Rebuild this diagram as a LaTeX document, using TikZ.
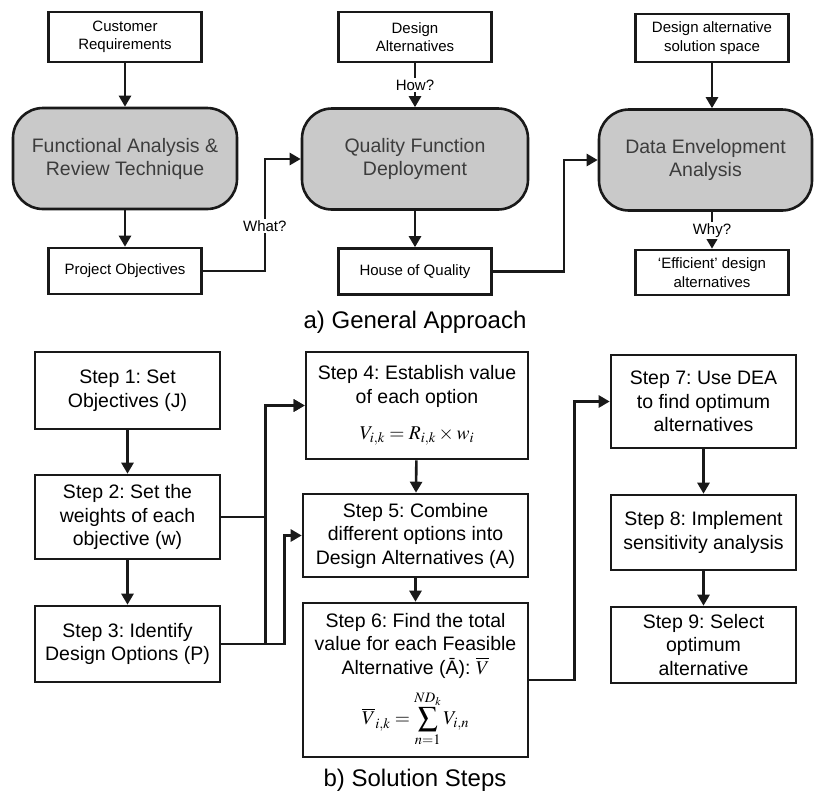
\documentclass[tikz,border=0pt]{standalone}
\usepackage{mathptmx}
\usepackage[no-math]{fontspec}
\setmainfont{Liberation Sans}
\usepackage{amsmath}
\usetikzlibrary{arrows.meta}
\frenchspacing

\definecolor{boxgray}{RGB}{201,201,201}
\definecolor{ink}{RGB}{25,25,25}
\definecolor{softink}{RGB}{60,60,60}

\begin{document}
\begin{tikzpicture}[x=1pt,y=1pt,
  line width=2.6pt,
  smallbox/.style={draw=ink,fill=white,align=center,inner sep=0pt,
    minimum width=153pt,font=\fontsize{15}{18.5}\selectfont},
  bigbox/.style={draw=ink,fill=boxgray,rounded corners=30pt,align=center,
    inner sep=0pt,minimum height=101pt,text=softink,
    font=\fontsize{19.5}{23}\selectfont},
  stepbox/.style={draw=ink,fill=white,align=center,inner sep=0pt,
    font=\fontsize{19.5}{23.5}\selectfont},
  arr/.style={draw=ink,sharp corners,line join=miter,-{Triangle[width=12pt,length=11pt]}},
  tag/.style={fill=white,inner sep=1.5pt,font=\fontsize{15}{18}\selectfont}]
  \useasboundingbox (0,0) rectangle (814,-793);

  % a) general approach
  \node[smallbox,minimum height=50pt] (cr) at (125,-37) {Customer\\Requirements};
  \node[bigbox,minimum width=224pt] (far) at (125,-158.5) {Functional Analysis \&\\Review Technique};
  \node[smallbox,minimum height=46pt] (po) at (125,-271) {Project Objectives};

  \node[smallbox,minimum height=50pt] (da) at (415,-37) {Design\\Alternatives};
  \node[bigbox,minimum width=226pt] (qfd) at (415,-159) {Quality Function\\Deployment};
  \node[smallbox,minimum height=46pt] (hoq) at (415,-271.5) {House of Quality};

  \node[smallbox,minimum height=48pt] (dass) at (712,-38) {Design alternative\\solution space};
  \node[bigbox,minimum width=213pt] (dea) at (705.5,-160) {Data Envelopment\\Analysis};
  \node[smallbox,minimum height=45pt] (eff) at (712,-272.5) {`Efficient' design\\alternatives};

  \draw[arr] (cr) -- (far);
  \draw[arr] (far) -- (po);
  \draw[arr] (da) -- node[tag] {How?} (qfd);
  \draw[arr] (qfd) -- (hoq);
  \draw[arr] (dass.south) -- (dass.south |- dea.north);
  \draw[arr] (eff.north |- dea.south) -- node[tag] {Why?} (eff.north);
  \draw[arr] (po.east) -- ++(62,0) |- node[tag,pos=0.2] {What?} (qfd.west);
  \draw[arr] (hoq.east) -- ++(71,0) |- (dea.west);

  \node[font=\fontsize{24}{28}\selectfont] (ta) at (415,-322) {a) General Approach};

  % b) solution steps
  \node[stepbox,minimum width=185pt,minimum height=77pt] (s1) at (127.5,-390.5) {Step 1: Set\\Objectives (J)};
  \node[stepbox,minimum width=185pt,minimum height=84pt] (s2) at (127.5,-517) {Step 2: Set the\\weights of each\\objective (w)};
  \node[stepbox,minimum width=185pt,minimum height=76pt] (s3) at (127.5,-644) {Step 3: Identify\\Design Options (P)};

  \node[stepbox,minimum width=222pt,minimum height=107pt] (s4) at (417,-405.5)
    {Step 4: Establish value\\of each option\\[13pt] $V_{i,k}=R_{i,k}\times w_i$};
  \node[stepbox,minimum width=225pt,minimum height=83pt] (s5) at (415.5,-535.5)
    {Step 5: Combine\\different options into\\Design Alternatives (A)};
  \node[stepbox,minimum width=225pt,minimum height=154pt] (s6) at (415.5,-680)
    {Step 6: Find the total\\value for each Feasible\\Alternative (Ā): $\overline{V}$\\[12pt]
     $\overline{V}_{i,k}=\displaystyle\sum_{n=1}^{ND_k}V_{i,n}$};

  \node[stepbox,minimum width=185pt,minimum height=93pt] (s7) at (703.5,-401.5) {Step 7: Use DEA\\to find optimum\\alternatives};
  \node[stepbox,minimum width=185pt,minimum height=75pt] (s8) at (703.5,-532.5) {Step 8: Implement\\sensitivity analysis};
  \node[stepbox,minimum width=185pt,minimum height=76pt] (s9) at (703.5,-645) {Step 9: Select\\optimum\\alternative};

  \draw[arr] (s1) -- (s2);
  \draw[arr] (s2) -- (s3);
  \draw[arr] (s4) -- (s5);
  \draw[arr] (s5) -- (s6);
  \draw[arr] (s7) -- (s8);
  \draw[arr] (s8) -- (s9);
  \draw[arr] (s2.east) -- ++(44,0) |- (s4.west);
  \draw[arr] (s3.east) -- ++(44,0) |- (s4.west);
  \draw[arr] (s3.east) -- ++(63,0) |- (s5.west);
  \draw[arr] (s6.east) -- ++(45,0) |- (s7.west);

  \node[font=\fontsize{24}{28}\selectfont] (tb) at (415,-780) {b) Solution Steps};
\end{tikzpicture}
\end{document}
